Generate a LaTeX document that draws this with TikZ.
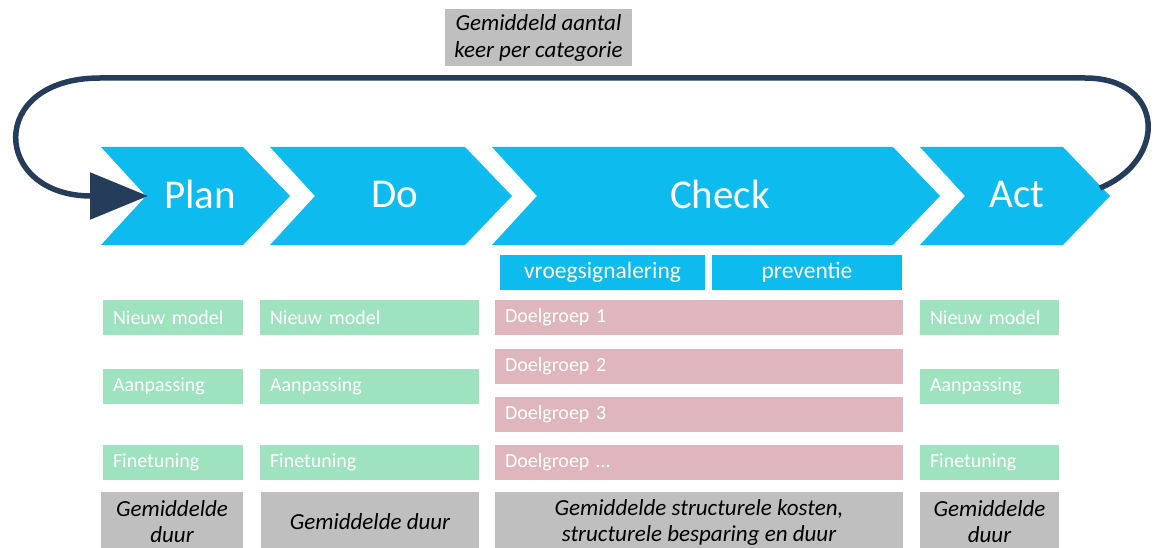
\documentclass[tikz,border=0pt]{standalone}
\usepackage{fontspec}
\setmainfont{Carlito}
\usetikzlibrary{arrows.meta}
\definecolor{cyanc}{HTML}{0DBBEE}
\definecolor{navy}{HTML}{253D5B}
\definecolor{greenc}{HTML}{9FE2C0}
\definecolor{pinkc}{HTML}{DFB6BE}
\definecolor{grayc}{HTML}{BFBFBF}
\tikzset{
  chev/.style={fill=cyanc, draw=none},
  chevtext/.style={text=white, font=\fontsize{41}{46}\selectfont, inner sep=0pt},
  bluebox/.style={fill=cyanc, draw=none, text=white, font=\fontsize{23.5}{26}\selectfont, inner sep=0pt},
  greenbox/.style={fill=greenc, draw=none, text=white, font=\fontsize{20}{23}\selectfont, inner sep=0pt},
  pinkbox/.style={fill=pinkc, draw=none, text=white, font=\fontsize{20}{23}\selectfont, inner sep=0pt},
  graybox/.style={fill=grayc, draw=none, text=black, font=\itshape\fontsize{23}{26}\selectfont, align=center, inner sep=0pt},
  loopline/.style={draw=navy, line width=5.5pt},
}
\begin{document}
\begin{tikzpicture}[x=1pt,y=-1pt]
\useasboundingbox (0,0) rectangle (1155,548);
% chevrons
\fill[chev] (101,147) -- (243,147) -- (290,196) -- (243,245) -- (101,245) -- (146,196) -- cycle;
\fill[chev] (270,147) -- (465,147) -- (512,196) -- (465,245) -- (270,245) -- (315,196) -- cycle;
\fill[chev] (492,147) -- (893,147) -- (940,196) -- (893,245) -- (492,245) -- (537,196) -- cycle;
\fill[chev] (920,147) -- (1063,147) -- (1110,196) -- (1063,245) -- (920,245) -- (965,196) -- cycle;
\node[chevtext] (plan) at (200,194) {Plan};
\node[chevtext] (do) at (395,194) {Do};
\node[chevtext] (check) at (720,194) {Check};
\node[chevtext] (act) at (1017,194) {Act};
\coordinate (plantip) at (148,196);
\coordinate (actend) at (1100,188);
% loop connector
\draw[loopline, -{Triangle[length=58pt, width=46pt]}]
  (actend) .. controls (1168,160) and (1165,78) .. (1085,78)
  -- (100,78) .. controls (-14,78) and (-8,196) .. (plantip);
% top label
\node[graybox, minimum width=187pt, minimum height=57pt, font=\itshape\fontsize{23}{27}\selectfont] (freq) at (538.5,37.5) {Gemiddeld aantal\\keer per categorie};
% blue sub boxes
\node[bluebox, minimum width=205pt, minimum height=35pt] (vroeg) at (602.5,272.5) {vroegsignalering};
\node[bluebox, minimum width=190pt, minimum height=35pt] (prev) at (807,272.5) {preventie};
% green boxes
\foreach \nm/\xa/\xb in {p/103/243, d/260/479, a/920/1059}{
  \node[greenbox, minimum width={\xb-\xa}, minimum height=35pt, text width={\xb-\xa-20}, align=left] (\nm1) at ({(\xa+\xb)/2},317.5) {Nieuw model};
  \node[greenbox, minimum width={\xb-\xa}, minimum height=35pt, text width={\xb-\xa-20}, align=left] (\nm2) at ({(\xa+\xb)/2},386.5) {Aanpassing};
  \node[greenbox, minimum width={\xb-\xa}, minimum height=35pt, text width={\xb-\xa-20}, align=left] (\nm3) at ({(\xa+\xb)/2},462.5) {Finetuning};
}
% pink boxes
\foreach \nm/\yc/\tx in {c1/317.5/Doelgroep 1, c2/366.5/Doelgroep 2, c3/414.5/Doelgroep 3, c4/462.5/Doelgroep \dots}{
  \node[pinkbox, minimum width=408pt, minimum height=35pt, text width=388pt, align=left] (\nm) at (699,\yc) {\tx};
}
% gray bottom boxes
\node[graybox, minimum width=142pt, minimum height=60pt] (g1) at (172,522) {Gemiddelde\\duur};
\node[graybox, minimum width=218pt, minimum height=60pt] (g2) at (370,522) {Gemiddelde duur};
\node[graybox, minimum width=408pt, minimum height=60pt] (g3) at (699,522) {Gemiddelde structurele kosten,\\structurele besparing en duur};
\node[graybox, minimum width=139pt, minimum height=60pt] (g4) at (989.5,522) {Gemiddelde\\duur};
\end{tikzpicture}
\end{document}
